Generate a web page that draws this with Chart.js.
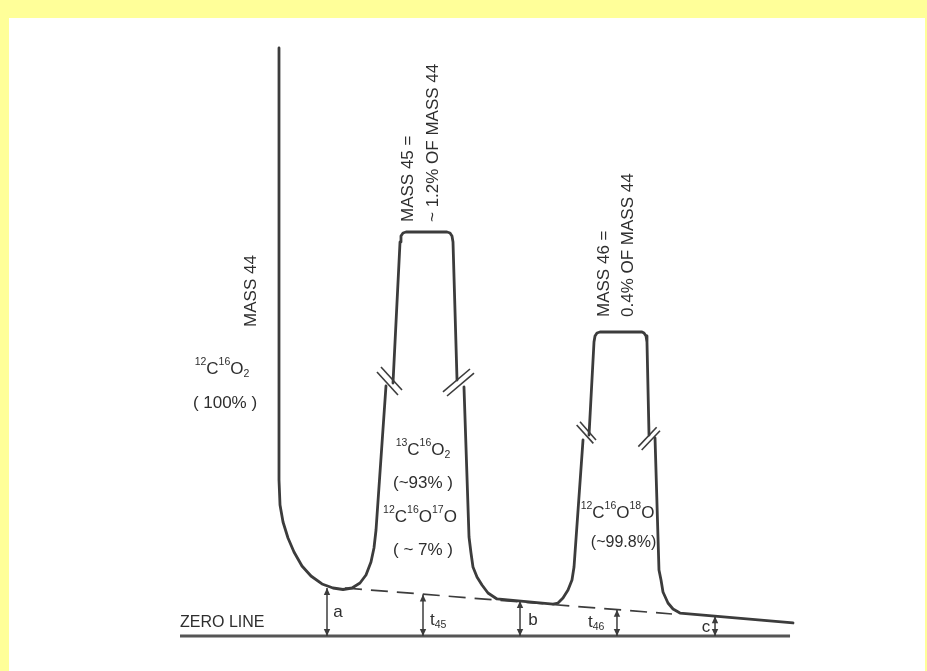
<!DOCTYPE html>
<html>
<head>
<meta charset="utf-8">
<title>Mass 44 / 45 / 46 ion currents and zero line</title>
<script src="https://cdn.jsdelivr.net/npm/chart.js@4/dist/chart.umd.min.js"></script>
<style>
  html, body { margin: 0; padding: 0; background: #ffff99; overflow: hidden; }
  #sheet { position: absolute; left: 9px; top: 18px; width: 916px; height: 653px; background: #ffffff; }
  #wrap { position: absolute; left: 0; top: 0; width: 927px; height: 671px; }
</style>
</head>
<body>
<div id="sheet"></div>
<div id="wrap"><canvas id="c" width="927" height="671"></canvas></div>
<script>
// Time axis (arbitrary units) vs. signal height above the zero line (arbitrary units).

// Mass 44 trace: the big peak's falling edge down into the first valley, then up the mass 45 rise
const mass44Trace = [
  {x:18.5,y:98.0},{x:18.5,y:26.0},{x:18.67,y:21.83},{x:19.17,y:19.0},{x:20.0,y:16.33},
  {x:21.0,y:14.0},{x:22.33,y:11.67},{x:23.83,y:10.0},{x:25.67,y:8.67},{x:27.5,y:8.0},
  {x:29.17,y:7.75},{x:30.67,y:8.0},{x:32.0,y:8.83},{x:33.0,y:10.17},{x:33.83,y:12.33},
  {x:34.33,y:14.67},{x:34.67,y:17.67},{x:36.33,y:41.67}
];
// Mass 45 plateau (above the axis break)
const peak45Top = [
  {x:37.5,y:42.17},{x:38.67,y:65.67},{x:38.83,y:66.67},{x:39.17,y:67.17},{x:39.67,y:67.33},
  {x:46.5,y:67.33},{x:47.0,y:67.17},{x:47.33,y:66.67},{x:47.5,y:65.67},{x:48.17,y:42.67}
];
// Mass 45 tail, second valley, mass 46 rise
const valleyTrace = [
  {x:49.33,y:41.5},{x:50.17,y:16.5},{x:50.5,y:13.83},{x:50.83,y:11.5},{x:51.5,y:9.83},
  {x:52.33,y:8.5},{x:53.33,y:7.17},{x:54.83,y:6.17},{x:64.17,y:5.33},{x:65.0,y:5.5},
  {x:65.83,y:6.33},{x:66.67,y:7.67},{x:67.33,y:9.33},{x:67.67,y:11.5},{x:69.17,y:32.67}
];
// Mass 46 plateau (above the axis break)
const peak46Top = [
  {x:70.17,y:33.5},{x:71.0,y:49.0},{x:71.17,y:50.0},{x:71.5,y:50.5},{x:72.0,y:50.67},
  {x:79.0,y:50.67},{x:79.33,y:50.5},{x:79.67,y:50.0},{x:79.83,y:49.0},{x:80.17,y:33.5}
];
// Mass 46 tail and the drifting background after it
const tailTrace = [
  {x:81.17,y:33.0},{x:81.83,y:11.0},{x:82.17,y:9.33},{x:82.5,y:7.33},{x:83.33,y:5.5},
  {x:84.17,y:4.5},{x:85.33,y:3.83},{x:104.17,y:2.17}
];
// Interpolated background under the peaks
const baseline = [{x:29.5,y:8.0},{x:84.0,y:3.67}];
// Zero signal reference
const zeroLine = [{x:2.0,y:0},{x:103.67,y:0}];

// Background offsets above zero
const offsetNames  = ['a', 't_45', 'b', 't_46', 'c'];
const offsetX      = [26.5, 42.5, 58.67, 74.83, 91.17];
const offsetHeight = [8.0, 6.9, 5.83, 4.38, 3.28];

// Axis-break marks (pairs of short parallel strokes)
const breakMarks = [
  [{x:34.83,y:44.0},{x:38.33,y:40.17}], [{x:35.5,y:44.83},{x:39.0,y:41.0}],
  [{x:45.83,y:40.67},{x:50.33,y:44.5}], [{x:46.5,y:40.0},{x:51.0,y:43.83}],
  [{x:68.11,y:35.17},{x:70.89,y:32.11}], [{x:68.67,y:35.72},{x:71.33,y:32.67}],
  [{x:78.39,y:31.56},{x:81.44,y:34.78}], [{x:78.95,y:31.0},{x:82.0,y:34.22}]
];

const INK = '#3c3c3c';
const TEXT = '#2e2e2e';
const FONT = '"Liberation Sans", Arial, sans-serif';

function traceSet(data, extra) {
  return Object.assign({
    data: data, showLine: true, borderColor: INK, borderWidth: 2.8,
    pointRadius: 0, tension: 0, fill: false, clip: false,
    borderCapStyle: 'round', borderJoinStyle: 'round'
  }, extra || {});
}

const datasets = [
  traceSet(zeroLine, {borderColor: '#555555', borderWidth: 3, borderCapStyle: 'butt'}),
  traceSet(baseline, {borderWidth: 1.7, borderDash: [17, 9], borderCapStyle: 'butt'}),
  traceSet(mass44Trace),
  traceSet(peak45Top),
  traceSet(valleyTrace),
  traceSet(peak46Top),
  traceSet(tailTrace)
];
breakMarks.forEach(m => datasets.push(traceSet(m, {borderWidth: 1.6, borderCapStyle: 'butt'})));

// Annotation texts, anchored in axis units. '^' = superscript digits, '_' = subscript digits.
const notes = [
  {t:'MASS 44', x:13.83, y:57.5, rot:true, align:'center'},
  {t:'^12C^16O_2', x:9.0, y:44.5, align:'center'},
  {t:'( 100% )', x:9.5, y:38.83, align:'center'},
  {t:'MASS 45 =', x:40.0, y:69.0, rot:true, align:'left'},
  {t:'~ 1.2% OF MASS 44', x:44.17, y:69.0, rot:true, align:'left'},
  {t:'MASS 46 =', x:72.67, y:53.17, rot:true, align:'left'},
  {t:'0.4% OF MASS 44', x:76.67, y:53.17, rot:true, align:'left'},
  {t:'^13C^16O_2', x:42.5, y:31.0, align:'center'},
  {t:'(~93% )', x:42.5, y:25.5, align:'center'},
  {t:'^12C^16O^17O', x:42.0, y:19.83, align:'center'},
  {t:'( ~ 7% )', x:42.5, y:14.33, align:'center'},
  {t:'^12C^16O^18O', x:74.92, y:20.5, align:'center'},
  {t:'(~99.8%)', x:75.92, y:15.5, align:'center', size:16},
  {t:'ZERO LINE', x:2.0, y:2.17, align:'left', size:16},
  {t:'a', x:28.33, y:4.0, align:'center'},
  {t:'t_45', x:43.67, y:2.67, align:'left'},
  {t:'b', x:60.83, y:2.67, align:'center'},
  {t:'t_46', x:70.0, y:2.33, align:'left'},
  {t:'c', x:89.67, y:1.5, align:'center'}
];

function parseRuns(s) {
  const runs = [];
  let i = 0, buf = '';
  while (i < s.length) {
    const ch = s[i];
    if (ch === '^' || ch === '_') {
      if (buf) { runs.push({t: buf, k: 'n'}); buf = ''; }
      let j = i + 1, d = '';
      while (j < s.length && /[0-9]/.test(s[j])) { d += s[j]; j++; }
      runs.push({t: d, k: ch === '^' ? 'sup' : 'sub'});
      i = j;
    } else { buf += ch; i++; }
  }
  if (buf) runs.push({t: buf, k: 'n'});
  return runs;
}

function drawRich(ctx, note) {
  const size = note.size || 17;
  const small = 10.5;
  const runs = parseRuns(note.t);
  const fontFor = k => (k === 'n' ? size : small) + 'px ' + FONT;
  let total = 0;
  runs.forEach(r => { ctx.font = fontFor(r.k); r.w = ctx.measureText(r.t).width; total += r.w; });
  let x = note.align === 'center' ? -total / 2 : 0;
  runs.forEach(r => {
    ctx.font = fontFor(r.k);
    let dy = 0;
    if (r.k === 'sup') dy = -size * 0.42;
    if (r.k === 'sub') dy = size * 0.28;
    ctx.fillText(r.t, x, dy);
    x += r.w;
  });
}

const annotate = {
  id: 'annotate',
  afterDatasetsDraw(chart) {
    const ctx = chart.ctx, xs = chart.scales.x, ys = chart.scales.y;
    // offset arrows between the zero line and the background
    ctx.save();
    ctx.strokeStyle = INK; ctx.lineWidth = 1.5; ctx.lineCap = 'butt';
    offsetX.forEach((v, i) => {
      const px = xs.getPixelForValue(v);
      const y0 = ys.getPixelForValue(0);
      const y1 = ys.getPixelForValue(offsetHeight[i]);
      ctx.beginPath(); ctx.moveTo(px, y0); ctx.lineTo(px, y1); ctx.stroke();
      ctx.fillStyle = INK;
      [[y1, 1], [y0, -1]].forEach(([tip, dir]) => {
        ctx.beginPath();
        ctx.moveTo(px, tip);
        ctx.lineTo(px - 3.2, tip + dir * 7);
        ctx.lineTo(px + 3.2, tip + dir * 7);
        ctx.closePath(); ctx.fill();
      });
    });
    // labels
    ctx.fillStyle = TEXT;
    ctx.textBaseline = 'middle';
    ctx.textAlign = 'left';
    notes.forEach(n => {
      ctx.save();
      ctx.translate(xs.getPixelForValue(n.x), ys.getPixelForValue(n.y));
      if (n.rot) ctx.rotate(-Math.PI / 2);
      drawRich(ctx, n);
      ctx.restore();
    });
    ctx.restore();
  }
};

new Chart(document.getElementById('c'), {
  type: 'scatter',
  data: { datasets: datasets },
  options: {
    responsive: false,
    devicePixelRatio: 1,
    animation: false,
    events: [],
    layout: { padding: { left: 168, right: 99, top: 36, bottom: 35 } },
    plugins: { legend: { display: false }, tooltip: { enabled: false } },
    scales: {
      x: { type: 'linear', min: 0, max: 110, display: false },
      y: { type: 'linear', min: 0, max: 100, display: false }
    }
  },
  plugins: [annotate]
});
</script>
</body>
</html>
